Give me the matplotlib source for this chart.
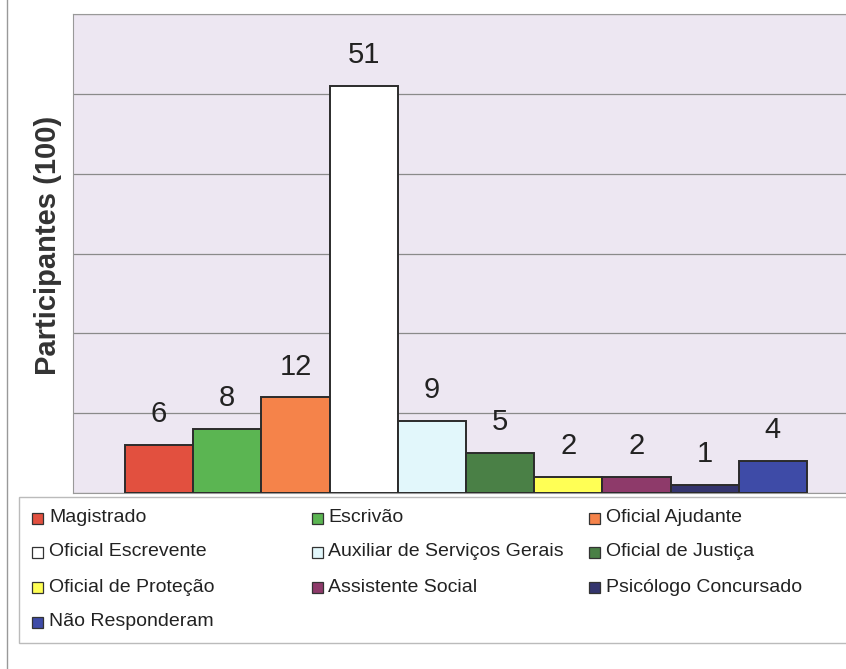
import matplotlib.pyplot as plt
from matplotlib.patches import Rectangle
from matplotlib.lines import Line2D

plt.rcParams['font.family'] = ['Liberation Sans', 'DejaVu Sans']

categorias = ['Magistrado', 'Escrivão', 'Oficial Ajudante', 'Oficial Escrevente',
              'Auxiliar de Serviços Gerais', 'Oficial de Justiça', 'Oficial de Proteção',
              'Assistente Social', 'Psicólogo Concursado', 'Não Responderam']
valores = [6, 8, 12, 51, 9, 5, 2, 2, 1, 4]
cores = ['#e2503f', '#5bb552', '#f5834a', '#ffffff', '#e2f7fb',
         '#4a8046', '#ffff55', '#8e3a6a', '#34356e', '#3e4ba7']

W, H = 846, 669
fig = plt.figure(figsize=(W / 100, H / 100), dpi=100)
fig.patch.set_facecolor('white')


def fx(px):
    return px / W


def fy(py):
    return 1 - py / H


ax = fig.add_axes([fx(73), fy(493), fx(846) - fx(73), fy(14) - fy(493)])
ax.set_facecolor('#ede7f2')

x = list(range(len(valores)))
bars = ax.bar(x, valores, width=1.0, color=cores, edgecolor='#2b2b2b', linewidth=1.4, zorder=3)
for b, v in zip(bars, valores):
    ax.annotate(str(v), (b.get_x() + b.get_width() / 2, v), xytext=(0, 12),
                textcoords='offset points', ha='center', va='bottom',
                fontsize=21, color='#222222')

ax.set_xlim(-0.5 - 52 / 68.2, 9.5 + 39 / 68.2)
ax.set_ylim(0, 60)
ax.set_yticks(range(0, 61, 10))
ax.yaxis.grid(True, color='#8a8a8a', linewidth=0.9, zorder=0)
ax.set_xticks([])
ax.tick_params(axis='y', length=0, labelleft=False)
for s in ['top', 'left', 'bottom']:
    ax.spines[s].set_color('#999999')
ax.spines['right'].set_visible(False)

fig.text(fx(48), fy(245), 'Participantes (100)', rotation=90, ha='center', va='center',
         fontsize=21, fontweight='bold', color='#333333')

# legend frame
fig.add_artist(Rectangle((fx(19), fy(643)), fx(860) - fx(19), fy(497) - fy(643),
                         transform=fig.transFigure, facecolor='white',
                         edgecolor='#bbbbbb', linewidth=1.0))

col_marker = [32, 312, 589]
col_text = [49, 328, 606]
row_y = [518, 552, 587, 622]
for i, (nome, cor) in enumerate(zip(categorias, cores)):
    r, c = divmod(i, 3)
    yc = row_y[r]
    fig.add_artist(Rectangle((fx(col_marker[c]), fy(yc + 5.5)), fx(11), 11 / H,
                             transform=fig.transFigure, facecolor=cor,
                             edgecolor='#333333', linewidth=0.9))
    fig.text(fx(col_text[c]), fy(yc), nome, ha='left', va='center',
             fontsize=14, color='#222222')

# page edge line
fig.add_artist(Line2D([fx(7), fx(7)], [0, 1], transform=fig.transFigure,
                      color='#999999', linewidth=1.0))

fig.savefig('out.png', dpi=100)
